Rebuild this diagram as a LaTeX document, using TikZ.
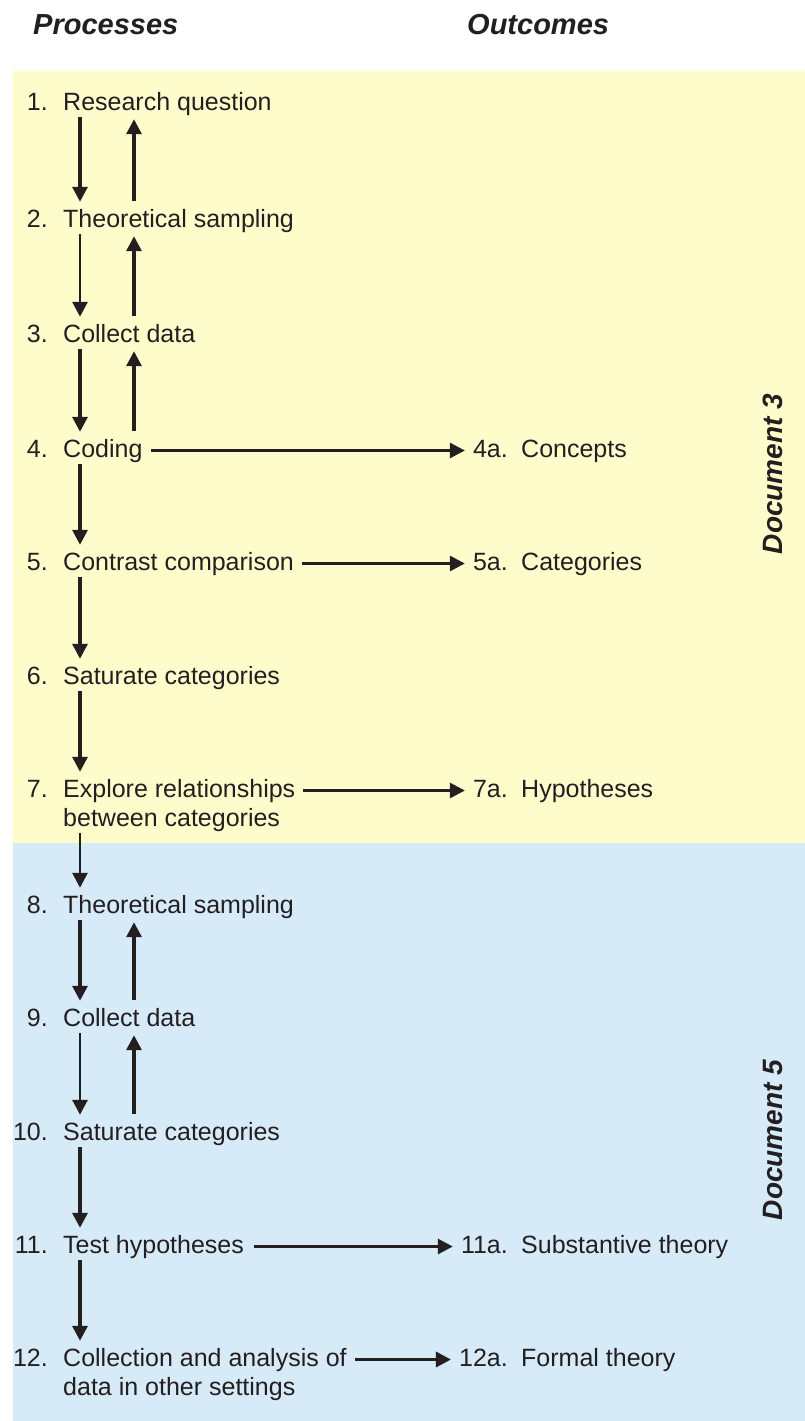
\documentclass[tikz,border=0pt]{standalone}
\usepackage{fontspec}
\setmainfont{Liberation Sans}
\usetikzlibrary{arrows.meta}
\definecolor{ink}{HTML}{231F20}
\definecolor{docyellow}{HTML}{FFFCCC}
\definecolor{docblue}{HTML}{D6EAF8}
\begin{document}
\begin{tikzpicture}[x=1pt,y=-1pt,
  every node/.style={inner sep=0pt, text=ink},
  lbl/.style={font=\fontsize{25}{30}\selectfont, text height=18pt, text depth=5pt, anchor=base west},
  num/.style={lbl, anchor=base east},
  head/.style={font=\fontsize{29}{33}\selectfont\bfseries\itshape, anchor=base west},
  doc/.style={font=\fontsize{28}{32}\selectfont\bfseries\itshape, rotate=90, anchor=base},
  flow/.style={draw=ink, line width=3.3pt, -{Triangle[length=15pt,width=15pt]}},
  thin/.style={line width=2.8pt},
  down/.style={flow, shorten <=2pt, shorten >=7pt},
  up/.style={flow, shorten <=8pt, shorten >=4pt},
  across/.style={flow, line width=3pt, shorten <=8pt, shorten >=8pt},
]
\useasboundingbox (0,0) rectangle (805,1421);

% document bands
\fill[docyellow] (13,71) rectangle (805,843);
\fill[docblue] (13,843) rectangle (805,1421);

% column headings
\node[head] (hproc) at (33,35) {Processes};
\node[head] (hout) at (467,35) {Outcomes};

% band labels
\node[doc] (doc3) at (782,474) {Document 3};
\node[doc] (doc5) at (782,1140) {Document 5};

% processes
\node[num] (n1) at (48,110) {1.};   \node[lbl] (p1) at (63,110) {Research question};
\node[num] (n2) at (48,227) {2.};   \node[lbl] (p2) at (63,227) {Theoretical sampling};
\node[num] (n3) at (48,342) {3.};   \node[lbl] (p3) at (63,342) {Collect data};
\node[num] (n4) at (48,457) {4.};   \node[lbl] (p4) at (63,457) {Coding};
\node[num] (n5) at (48,570) {5.};   \node[lbl] (p5) at (63,570) {Contrast comparison};
\node[num] (n6) at (48,684) {6.};   \node[lbl] (p6) at (63,684) {Saturate categories};
\node[num] (n7) at (48,797) {7.};   \node[lbl] (p7) at (63,797) {Explore relationships};
                                     \node[lbl] (p7b) at (63,826) {between categories};
\node[num] (n8) at (48,913) {8.};   \node[lbl] (p8) at (63,913) {Theoretical sampling};
\node[num] (n9) at (48,1026) {9.};  \node[lbl] (p9) at (63,1026) {Collect data};
\node[num] (n10) at (48,1140) {10.}; \node[lbl] (p10) at (63,1140) {Saturate categories};
\node[num] (n11) at (48,1253) {11.}; \node[lbl] (p11) at (63,1253) {Test hypotheses};
\node[num] (n12) at (48,1366) {12.}; \node[lbl] (p12) at (63,1366) {Collection and analysis of};
                                      \node[lbl] (p12b) at (63,1395) {data in other settings};

% outcomes
\node[num] (o4) at (508,457) {4a.};    \node[lbl] (q4) at (521,457) {Concepts};
\node[num] (o5) at (508,570) {5a.};    \node[lbl] (q5) at (521,570) {Categories};
\node[num] (o7) at (508,797) {7a.};    \node[lbl] (q7) at (521,797) {Hypotheses};
\node[num] (o11) at (508,1253) {11a.}; \node[lbl] (q11) at (521,1253) {Substantive theory};
\node[num] (o12) at (508,1366) {12a.}; \node[lbl] (q12) at (521,1366) {Formal theory};

% downward flow
\draw[down] ([xshift=17pt]p1.south west) -- ([xshift=17pt]p2.north west);
\draw[down,thin] ([xshift=17pt]p2.south west) -- ([xshift=17pt]p3.north west);
\draw[down] ([xshift=17pt]p3.south west) -- ([xshift=17pt]p4.north west);
\draw[down] ([xshift=17pt]p4.south west) -- ([xshift=17pt]p5.north west);
\draw[down] ([xshift=17pt]p5.south west) -- ([xshift=17pt]p6.north west);
\draw[down] ([xshift=17pt]p6.south west) -- ([xshift=17pt]p7.north west);
\draw[down,thin] ([xshift=17pt]p7b.south west) -- ([xshift=17pt]p8.north west);
\draw[down] ([xshift=17pt]p8.south west) -- ([xshift=17pt]p9.north west);
\draw[down,thin] ([xshift=17pt]p9.south west) -- ([xshift=17pt]p10.north west);
\draw[down] ([xshift=17pt]p10.south west) -- ([xshift=17pt]p11.north west);
\draw[down] ([xshift=17pt]p11.south west) -- ([xshift=17pt]p12.north west);

% feedback loops
\draw[up] ([xshift=71pt]p2.north west) -- ([xshift=71pt]p1.south west);
\draw[up] ([xshift=71pt]p3.north west) -- ([xshift=71pt]p2.south west);
\draw[up] ([xshift=71pt]p4.north west) -- ([xshift=71pt]p3.south west);
\draw[up] ([xshift=71pt]p9.north west) -- ([xshift=71pt]p8.south west);
\draw[up] ([xshift=71pt]p10.north west) -- ([xshift=71pt]p9.south west);

% processes to outcomes
\draw[across,line width=2.7pt] (p4.east) -- (o4.west);
\draw[across] (p5.east) -- (o5.west);
\draw[across] (p7.east) -- (o7.west);
\draw[across,shorten <=10pt] (p11.east) -- (o11.west);
\draw[across,line width=3.3pt] (p12.east) -- (o12.west);
\end{tikzpicture}
\end{document}
